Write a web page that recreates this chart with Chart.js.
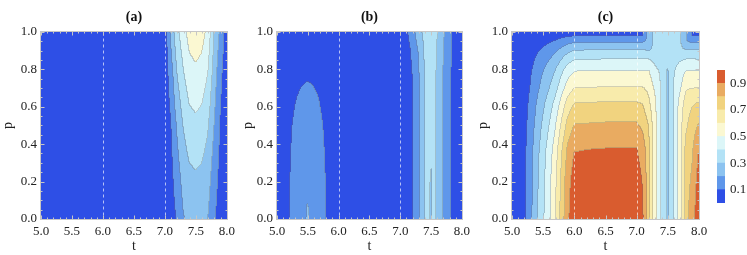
<!DOCTYPE html>
<html>
<head>
<meta charset="utf-8">
<script src="https://cdn.jsdelivr.net/npm/chart.js@4.4.0/dist/chart.umd.min.js"></script>
<style>
  html, body { margin: 0; padding: 0; background: #fff; }
  #wrap { position: relative; width: 747px; height: 255px; overflow: hidden; }
  canvas { position: absolute; top: 0; }
</style>
</head>
<body>
<div id="wrap">
  <canvas id="chartA" width="240" height="255" style="left:0px"></canvas>
  <canvas id="chartB" width="235" height="255" style="left:240px"></canvas>
  <canvas id="chartC" width="240" height="255" style="left:475px"></canvas>
  <canvas id="chartKey" width="42" height="255" style="left:705px"></canvas>
</div>
<script>
// contour levels and their colours (bottom to top of the legend)
const levels = [0, 0.1, 0.2, 0.3, 0.4, 0.5, 0.6, 0.7, 0.8, 0.9, 1.0];
const levelColors = ['#2e4fe6', '#5f97ea', '#8cc3f0', '#b3e2f6', '#dcf6f8',
                     '#fbf8d2', '#f8ebab', '#f1d37f', '#e9ab61', '#d95c2f'];
const legendTicks = [0.1, 0.3, 0.5, 0.7, 0.9];
const tTicks = [5.0, 5.5, 6.0, 6.5, 7.0, 7.5, 8.0];
const pTicks = [0.0, 0.2, 0.4, 0.6, 0.8, 1.0];
const dashedT = [6, 7];

// panel (a): rows follow pA, columns follow tA
const tA = [5.0, 7.0, 7.1, 7.2, 7.3, 7.4, 7.5, 7.6, 7.7, 7.8, 7.9, 8.0];
const pA = [0, 0.25, 0.5, 0.75, 1.0];
const zA = [
  [0.01, 0.02, 0.05, 0.11, 0.19, 0.235, 0.25, 0.235, 0.198, 0.11, 0.05, 0.02],
  [0.01, 0.025, 0.07, 0.16, 0.24, 0.285, 0.297, 0.285, 0.25, 0.15, 0.07, 0.025],
  [0.01, 0.035, 0.095, 0.21, 0.302, 0.36, 0.375, 0.36, 0.31, 0.20, 0.09, 0.03],
  [0.01, 0.04, 0.14, 0.29, 0.38, 0.45, 0.47, 0.45, 0.39, 0.25, 0.12, 0.035],
  [0.01, 0.03, 0.22, 0.37, 0.46, 0.54, 0.56, 0.54, 0.47, 0.30, 0.18, 0.04]
];

// panel (b)
const tB = [5.0, 5.1, 5.2, 5.3, 5.4, 5.46, 5.5, 5.54, 5.6, 5.7, 5.8, 5.9, 6.5,
            7.0, 7.1, 7.2, 7.3, 7.4, 7.47, 7.5, 7.53, 7.6, 7.7, 7.8, 7.9, 8.0];
const pB = [0, 0.1, 0.3, 0.5, 0.65, 0.75, 0.9, 1.0];
const zB = [
  [0.03, 0.06, 0.095, 0.13, 0.16, 0.17, 0.24, 0.17, 0.16, 0.13, 0.098, 0.06, 0.02,
   0.02, 0.05, 0.098, 0.18, 0.302, 0.34, 0.27, 0.34, 0.29, 0.198, 0.12, 0.05, 0.02],
  [0.03, 0.06, 0.095, 0.13, 0.16, 0.17, 0.195, 0.17, 0.16, 0.13, 0.098, 0.06, 0.02,
   0.02, 0.05, 0.098, 0.18, 0.302, 0.34, 0.275, 0.34, 0.29, 0.198, 0.12, 0.05, 0.02],
  [0.03, 0.058, 0.093, 0.127, 0.155, 0.166, 0.17, 0.166, 0.155, 0.127, 0.095, 0.058, 0.02,
   0.02, 0.05, 0.098, 0.18, 0.302, 0.34, 0.29, 0.34, 0.29, 0.198, 0.12, 0.05, 0.02],
  [0.025, 0.05, 0.085, 0.115, 0.14, 0.147, 0.15, 0.147, 0.14, 0.115, 0.085, 0.05, 0.02,
   0.02, 0.05, 0.098, 0.18, 0.302, 0.34, 0.35, 0.34, 0.29, 0.198, 0.12, 0.05, 0.02],
  [0.02, 0.04, 0.07, 0.095, 0.115, 0.122, 0.125, 0.122, 0.115, 0.095, 0.07, 0.04, 0.02,
   0.02, 0.05, 0.098, 0.18, 0.302, 0.34, 0.35, 0.34, 0.29, 0.198, 0.12, 0.05, 0.02],
  [0.02, 0.035, 0.055, 0.075, 0.088, 0.093, 0.095, 0.093, 0.088, 0.075, 0.055, 0.035, 0.02,
   0.02, 0.05, 0.098, 0.18, 0.302, 0.34, 0.35, 0.34, 0.29, 0.198, 0.12, 0.05, 0.02],
  [0.015, 0.025, 0.035, 0.045, 0.05, 0.05, 0.05, 0.05, 0.05, 0.045, 0.035, 0.025, 0.02,
   0.025, 0.06, 0.115, 0.205, 0.31, 0.345, 0.35, 0.345, 0.295, 0.205, 0.125, 0.055, 0.025],
  [0.01, 0.02, 0.025, 0.03, 0.03, 0.03, 0.03, 0.03, 0.03, 0.03, 0.025, 0.02, 0.02,
   0.03, 0.08, 0.15, 0.26, 0.33, 0.35, 0.355, 0.35, 0.31, 0.22, 0.13, 0.06, 0.03]
];

// panel (c)
const tC = [5.0, 5.1, 5.2, 5.3, 5.4, 5.5, 5.6, 5.7, 5.8, 5.9, 6.0, 6.5,
            7.0, 7.1, 7.2, 7.3, 7.4, 7.47, 7.5, 7.53, 7.6, 7.7, 7.8, 7.9, 8.0];
const pC = [0, 0.2, 0.37, 0.51, 0.62, 0.70, 0.79, 0.85, 0.90, 0.94, 0.98, 1.0];
const zC = [
  [0.02, 0.05, 0.08, 0.17, 0.28, 0.38, 0.48, 0.59, 0.74, 0.885, 0.965, 0.97,
   0.97, 0.92, 0.74, 0.53, 0.39, 0.345, 0.20, 0.345, 0.405, 0.56, 0.76, 0.87, 0.97],
  [0.02, 0.049, 0.078, 0.166, 0.274, 0.372, 0.47, 0.578, 0.724, 0.866, 0.945, 0.95,
   0.95, 0.895, 0.74, 0.53, 0.39, 0.34, 0.21, 0.34, 0.405, 0.56, 0.76, 0.82, 0.95],
  [0.019, 0.046, 0.074, 0.158, 0.26, 0.353, 0.445, 0.548, 0.687, 0.821, 0.896, 0.905,
   0.905, 0.86, 0.73, 0.53, 0.39, 0.34, 0.22, 0.34, 0.405, 0.56, 0.735, 0.79, 0.903],
  [0.017, 0.041, 0.066, 0.14, 0.231, 0.314, 0.396, 0.487, 0.611, 0.73, 0.796, 0.805,
   0.805, 0.775, 0.69, 0.53, 0.39, 0.34, 0.235, 0.34, 0.405, 0.56, 0.68, 0.75, 0.803],
  [0.014, 0.036, 0.058, 0.123, 0.202, 0.274, 0.347, 0.426, 0.534, 0.639, 0.697, 0.705,
   0.705, 0.695, 0.62, 0.52, 0.39, 0.34, 0.25, 0.34, 0.405, 0.535, 0.65, 0.69, 0.703],
  [0.012, 0.031, 0.05, 0.105, 0.173, 0.235, 0.297, 0.365, 0.458, 0.548, 0.597, 0.605,
   0.605, 0.605, 0.575, 0.48, 0.39, 0.34, 0.26, 0.34, 0.405, 0.48, 0.59, 0.595, 0.603],
  [0.01, 0.026, 0.041, 0.088, 0.144, 0.196, 0.247, 0.304, 0.381, 0.456, 0.497, 0.505,
   0.505, 0.505, 0.505, 0.42, 0.385, 0.34, 0.275, 0.34, 0.39, 0.45, 0.505, 0.505, 0.503],
  [0.008, 0.021, 0.033, 0.07, 0.115, 0.157, 0.198, 0.243, 0.305, 0.365, 0.398, 0.405,
   0.405, 0.405, 0.405, 0.375, 0.37, 0.35, 0.37, 0.35, 0.37, 0.39, 0.405, 0.405, 0.403],
  [0.006, 0.015, 0.025, 0.053, 0.087, 0.117, 0.148, 0.182, 0.229, 0.273, 0.298, 0.305,
   0.305, 0.305, 0.295, 0.33, 0.36, 0.35, 0.37, 0.35, 0.36, 0.32, 0.305, 0.305, 0.303],
  [0.004, 0.01, 0.016, 0.035, 0.058, 0.078, 0.099, 0.122, 0.152, 0.182, 0.199, 0.205,
   0.205, 0.205, 0.24, 0.33, 0.36, 0.35, 0.37, 0.35, 0.36, 0.32, 0.205, 0.205, 0.203],
  [0.002, 0.005, 0.007, 0.016, 0.026, 0.035, 0.045, 0.055, 0.069, 0.082, 0.09, 0.09,
   0.09, 0.09, 0.24, 0.33, 0.36, 0.35, 0.37, 0.35, 0.36, 0.32, 0.205, 0.09, 0.09],
  [0.001, 0.002, 0.003, 0.007, 0.011, 0.016, 0.02, 0.024, 0.03, 0.036, 0.04, 0.04,
   0.05, 0.09, 0.24, 0.33, 0.36, 0.35, 0.37, 0.35, 0.36, 0.32, 0.205, 0.09, 0.05]
];

const serif = 'Liberation Serif, DejaVu Serif, serif';
const textColor = '#222';
Chart.defaults.font.family = serif;
const rgbColors = levelColors.map(h => [1, 3, 5].map(k => parseInt(h.slice(k, k + 2), 16)));

function locate(arr, v) {
  let i = 0;
  while (i < arr.length - 2 && v > arr[i + 1]) i++;
  return i;
}

// bilinear value of the grid at (t, p)
function sample(ts, ps, zs, t, p) {
  const i = locate(ts, t), j = locate(ps, p);
  const u = Math.min(1, Math.max(0, (t - ts[i]) / (ts[i + 1] - ts[i])));
  const v = Math.min(1, Math.max(0, (p - ps[j]) / (ps[j + 1] - ps[j])));
  const z0 = zs[j][i] * (1 - u) + zs[j][i + 1] * u;
  const z1 = zs[j + 1][i] * (1 - u) + zs[j + 1][i + 1] * u;
  return z0 * (1 - v) + z1 * v;
}

function bandOf(z) {
  let b = 0;
  while (b < levels.length - 2 && z >= levels[b + 1]) b++;
  return b;
}

// fills the plot area band by band, using the chart's own scales
function contourPlugin(ts, ps, zs) {
  return {
    id: 'contourFill',
    beforeDatasetsDraw(chart) {
      const {ctx, chartArea: a, scales: {x, y}} = chart;
      const x0 = Math.round(a.left), y0 = Math.round(a.top);
      const w = Math.round(a.right) - x0, h = Math.round(a.bottom) - y0;
      const band = new Int8Array(w * h);
      for (let r = 0; r < h; r++) {
        const p = y.getValueForPixel(y0 + r + 0.5);
        for (let c = 0; c < w; c++) {
          const t = x.getValueForPixel(x0 + c + 0.5);
          band[r * w + c] = bandOf(sample(ts, ps, zs, t, p));
        }
      }
      const img = ctx.createImageData(w, h);
      for (let r = 0; r < h; r++) {
        for (let c = 0; c < w; c++) {
          const k = r * w + c;
          const b = band[k];
          const col = rgbColors[b];
          const edge = (c < w - 1 && band[k + 1] !== b) || (r < h - 1 && band[k + w] !== b);
          const f = edge ? 0.3 : 0;
          img.data[k * 4] = col[0] * (1 - f) + 110 * f;
          img.data[k * 4 + 1] = col[1] * (1 - f) + 110 * f;
          img.data[k * 4 + 2] = col[2] * (1 - f) + 110 * f;
          img.data[k * 4 + 3] = 255;
        }
      }
      ctx.putImageData(img, x0, y0);
    }
  };
}

const frameAndGuides = {
  id: 'frameAndGuides',
  afterDatasetsDraw(chart) {
    const {ctx, chartArea: a, scales: {x, y}} = chart;
    const L = Math.round(a.left) + 0.5, R = Math.round(a.right) - 0.5;
    const T = Math.round(a.top) + 0.5, B = Math.round(a.bottom) - 0.5;
    ctx.save();
    ctx.lineWidth = 1;
    ctx.strokeStyle = 'rgba(255,255,255,0.65)';
    ctx.setLineDash([3, 3]);
    dashedT.forEach(v => {
      const px = Math.round(x.getPixelForValue(v)) + 0.5;
      ctx.beginPath();
      ctx.moveTo(px, T);
      ctx.lineTo(px, B);
      ctx.stroke();
    });
    ctx.setLineDash([]);
    ctx.strokeStyle = '#c6c6c6';
    ctx.strokeRect(L - 1, T - 1, R - L + 2, B - T + 2);
    ctx.beginPath();
    for (let k = 0; k <= 30; k++) {
      const px = Math.round(x.getPixelForValue(5 + k * 0.1)) + 0.5;
      const len = k % 5 === 0 ? 4 : 2;
      ctx.moveTo(px, B + 1); ctx.lineTo(px, B + 1 - len);
      ctx.moveTo(px, T - 1); ctx.lineTo(px, T - 1 + len);
    }
    for (let k = 0; k <= 20; k++) {
      const py = Math.round(y.getPixelForValue(k * 0.05)) + 0.5;
      const len = k % 4 === 0 ? 4 : 2;
      ctx.moveTo(L - 1, py); ctx.lineTo(L - 1 + len, py);
      ctx.moveTo(R + 1, py); ctx.lineTo(R + 1 - len, py);
    }
    ctx.stroke();
    ctx.restore();
  }
};

function panelChart(id, title, yWidth, padRight, ts, ps, zs) {
  const tickFont = {family: serif, size: 13};
  return new Chart(document.getElementById(id), {
    type: 'scatter',
    data: {datasets: []},
    options: {
      responsive: false,
      animation: false,
      layout: {padding: {left: 0, right: padRight, top: 0, bottom: 0}},
      plugins: {
        legend: {display: false},
        tooltip: {enabled: false},
        title: {
          display: true, text: title, fullSize: false, color: '#111',
          font: {family: serif, size: 14, weight: 'bold'},
          padding: {top: 9, bottom: 6}
        }
      },
      scales: {
        x: {
          type: 'linear', min: 5, max: 8,
          afterBuildTicks: s => { s.ticks = tTicks.map(v => ({value: v})); },
          afterFit: s => { s.height = 36; },
          grid: {display: false, drawTicks: false},
          border: {display: false},
          ticks: {padding: 5, font: tickFont, color: textColor, maxRotation: 0, autoSkip: false,
                  callback: v => Number(v).toFixed(1)},
          title: {display: true, text: 't', font: {family: serif, size: 14}, color: textColor, padding: 0}
        },
        y: {
          type: 'linear', min: 0, max: 1,
          afterBuildTicks: s => { s.ticks = pTicks.map(v => ({value: v})); },
          afterFit: s => { s.width = yWidth; },
          grid: {display: false, drawTicks: false},
          border: {display: false},
          ticks: {padding: 4, font: tickFont, color: textColor, autoSkip: false,
                  callback: v => Number(v).toFixed(1)},
          title: {display: true, text: 'p', font: {family: serif, size: 14}, color: textColor, padding: 0}
        }
      }
    },
    plugins: [contourPlugin(ts, ps, zs), frameAndGuides]
  });
}

panelChart('chartA', '(a)', 41, 12, tA, pA, zA);
panelChart('chartB', '(b)', 37, 11, tB, pB, zB);
panelChart('chartC', '(c)', 37, 16, tC, pC, zC);

// colour key: one stacked bar, one segment per contour band
new Chart(document.getElementById('chartKey'), {
  type: 'bar',
  data: {
    labels: ['z'],
    datasets: levelColors.map((c, i) => ({
      data: [levels[i + 1] - levels[i]],
      backgroundColor: c,
      borderWidth: 0,
      barPercentage: 1,
      categoryPercentage: 1
    }))
  },
  options: {
    responsive: false,
    animation: false,
    layout: {padding: {left: 12, right: 0, top: 70, bottom: 52}},
    plugins: {legend: {display: false}, tooltip: {enabled: false}},
    scales: {
      x: {stacked: true, display: false},
      y: {
        stacked: true, min: 0, max: 1, position: 'right',
        afterBuildTicks: s => { s.ticks = legendTicks.map(v => ({value: v})); },
        afterFit: s => { s.width = 22; },
        grid: {display: false, drawTicks: false},
        border: {display: false},
        ticks: {padding: 5, font: {family: serif, size: 13}, color: textColor,
                autoSkip: false, callback: v => Number(v).toFixed(1)}
      }
    }
  }
});
</script>
</body>
</html>
